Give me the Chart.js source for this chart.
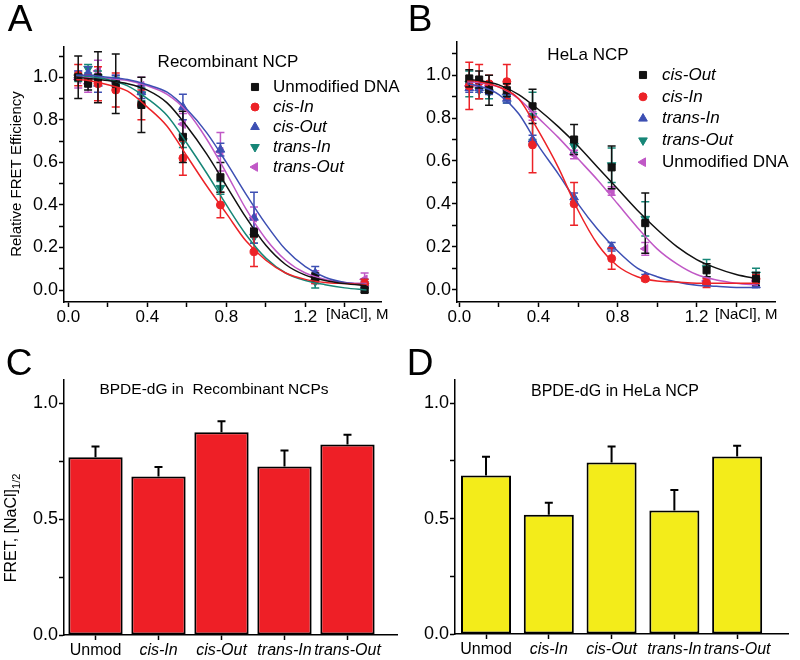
<!DOCTYPE html>
<html><head><meta charset="utf-8">
<script src="https://cdn.jsdelivr.net/npm/chart.js@4/dist/chart.umd.min.js"></script>
<style>
html,body{margin:0;padding:0;background:#fff;}
#wrap{position:relative;width:800px;height:660px;background:#fff;}
canvas{position:absolute;}
</style></head><body>
<div id="wrap">
<canvas id="cA" width="400" height="330" style="left:0;top:0"></canvas>
<canvas id="cB" width="400" height="330" style="left:400px;top:0"></canvas>
<canvas id="cC" width="400" height="330" style="left:0;top:330px"></canvas>
<canvas id="cD" width="400" height="330" style="left:400px;top:330px"></canvas>
</div>
<script>
// ---------- data ----------
const concA = [0.05,0.10,0.15,0.24,0.37,0.58,0.77,0.94,1.25,1.50];
const aUnmod      = [1.00,0.97,1.00,0.97,0.87,0.72,0.53,0.27,0.06,0.00];
const aUnmodErr   = [0.10,0.03,0.12,0.14,0.13,0.12,0.07,0.02,0.02,0.01];
const aCisIn      = [1.01,0.99,0.97,0.94,0.87,0.62,0.40,0.18,0.05,0.03];
const aCisInErr   = [0.05,0.02,0.08,0.08,0.07,0.08,0.06,0.07,0.02,0.02];
const aCisOut     = [1.01,1.02,0.97,0.99,0.93,0.86,0.66,0.34,0.08,0.03];
const aCisOutErr  = [0.02,0.03,0.04,0.02,0.03,0.06,0.03,0.12,0.03,0.02];
const aTransIn    = [1.00,1.04,1.00,0.98,0.92,0.70,0.48,0.25,0.04,0.02];
const aTransInErr = [0.02,0.02,0.03,0.02,0.03,0.03,0.03,0.03,0.03,0.02];
const aTransOut   = [0.99,0.97,1.03,0.98,0.96,0.78,0.65,0.34,0.06,0.05];
const aTransOutErr= [0.04,0.04,0.05,0.03,0.04,0.05,0.09,0.05,0.03,0.03];

const fitX = [0.04,0.1,0.2,0.3,0.4,0.5,0.6,0.7,0.8,0.9,1.0,1.1,1.2,1.3,1.4,1.51];
const aFitUnmod    = [1.00,0.995,0.985,0.97,0.94,0.88,0.77,0.64,0.49,0.34,0.21,0.12,0.07,0.045,0.03,0.02];
const aFitCisIn    = [0.99,0.985,0.965,0.935,0.86,0.77,0.63,0.49,0.36,0.23,0.14,0.08,0.05,0.035,0.03,0.025];
const aFitCisOut   = [1.01,1.01,1.00,0.99,0.965,0.93,0.85,0.74,0.60,0.45,0.31,0.19,0.11,0.06,0.035,0.025];
const aFitTransIn  = [1.01,1.005,0.99,0.96,0.90,0.82,0.69,0.55,0.40,0.26,0.15,0.08,0.045,0.025,0.01,0.00];
const aFitTransOut = [1.00,1.00,0.995,0.985,0.96,0.92,0.84,0.71,0.55,0.38,0.24,0.14,0.08,0.05,0.035,0.03];

const concB = [0.05,0.10,0.15,0.24,0.37,0.58,0.77,0.94,1.25,1.50];
const bCisOut      = [0.985,0.98,0.93,0.93,0.855,0.70,0.57,0.31,0.09,0.05];
const bCisOutErr   = [0.04,0.04,0.07,0.03,0.08,0.07,0.10,0.14,0.03,0.03];
const bCisIn       = [0.95,0.97,0.96,0.97,0.675,0.40,0.145,0.05,0.03,0.05];
const bCisInErr    = [0.11,0.08,0.04,0.08,0.13,0.10,0.05,0.01,0.02,0.02];
const bTransIn     = [0.94,0.94,0.93,0.89,0.70,0.43,0.20,0.06,0.03,0.02];
const bTransInErr  = [0.02,0.02,0.02,0.02,0.02,0.02,0.02,0.01,0.01,0.01];
const bTransOut    = [0.96,0.93,0.92,0.90,0.81,0.67,0.58,0.33,0.10,0.07];
const bTransOutErr = [0.06,0.04,0.03,0.03,0.11,0.03,0.08,0.08,0.04,0.03];
const bUnmod       = [0.95,0.95,0.95,0.91,0.81,0.63,0.46,0.19,0.04,0.04];
const bUnmodErr    = [0.02,0.02,0.02,0.02,0.02,0.02,0.02,0.03,0.01,0.01];

const bFitCisOut  = [0.98,0.975,0.955,0.91,0.84,0.76,0.67,0.57,0.47,0.37,0.28,0.20,0.14,0.10,0.07,0.05];
const bFitCisIn   = [0.975,0.97,0.945,0.89,0.74,0.57,0.37,0.21,0.11,0.06,0.04,0.035,0.03,0.03,0.03,0.03];
const bFitTransIn = [0.96,0.95,0.91,0.82,0.67,0.54,0.40,0.28,0.18,0.10,0.06,0.035,0.02,0.015,0.01,0.01];
const bFitUnmod   = [0.97,0.965,0.945,0.89,0.80,0.71,0.61,0.51,0.40,0.29,0.19,0.12,0.07,0.045,0.03,0.02];

const barCats = ['Unmod','cis-In','cis-Out','trans-In','trans-Out'];
const cVals = [0.767,0.684,0.875,0.727,0.822];
const cErr  = [0.046,0.041,0.047,0.069,0.042];
const dVals = [0.686,0.516,0.743,0.535,0.769];
const dErr  = [0.082,0.052,0.069,0.089,0.046];

const curveXTicks  = [0,0.2,0.4,0.6,0.8,1.0,1.2,1.4];
const curveXLabels = ['0.0','','0.4','','0.8','','1.2',''];
const curveYTicks  = [0,0.1,0.2,0.3,0.4,0.5,0.6,0.7,0.8,0.9,1.0,1.1];
const curveYLabels = ['0.0','','0.2','','0.4','','0.6','','0.8','','1.0',''];
const barYTicks  = [0,0.25,0.5,0.75,1.0];
const barYLabels = ['0.0','','0.5','','1.0'];

// ---------- styles ----------
const FONT = '"Liberation Sans", Arial, Helvetica, sans-serif';
const COL = {black:'#111111', red:'#ec2227', blue:'#3d4fb3', teal:'#168677', pink:'#c058c6', barRed:'#ee1f26', barYellow:'#f3ec1a'};

// ---------- helpers ----------
function pts(xs, ys){ return xs.map((x,i)=>({x:x, y:ys[i]})); }
function pointSet(label, xs, ys, errs, color, style, rot, italic){
  return {label:label, data:pts(xs,ys), errors:errs, showLine:false, pointStyle:style, rotation:rot,
    pointRadius: style==='circle'?4:5, backgroundColor:color, borderColor:color, pointBorderWidth:1,
    italicLabel:italic, inLegend:true, order:1};
}
function fitSet(xs, ys, color){
  return {data:pts(xs,ys), showLine:true, pointRadius:0, borderColor:color, backgroundColor:color,
    borderWidth:1.5, cubicInterpolationMode:'monotone', fill:false, order:0};
}
function drawErr(chart, meta, ds){
  const ctx = chart.ctx, ys = chart.scales.y;
  ctx.save();
  ctx.strokeStyle = ds.errColor || ds.borderColor;
  ctx.lineWidth = ds.errWidth || 1.5;
  meta.data.forEach((el,j)=>{
    const v = ds.data[j].y, e = ds.errors[j];
    const x = el.x;
    const yT = ys.getPixelForValue(v+e);
    const yB = ds.upOnly ? ys.getPixelForValue(v) : ys.getPixelForValue(v-e);
    const c = ds.capHalf || 4;
    ctx.beginPath();
    ctx.moveTo(x,yT); ctx.lineTo(x,yB);
    ctx.moveTo(x-c,yT); ctx.lineTo(x+c,yT);
    if(!ds.upOnly){ ctx.moveTo(x-c,yB); ctx.lineTo(x+c,yB); }
    ctx.stroke();
  });
  ctx.restore();
}
const errPlugin = {
  id:'errbars',
  beforeDatasetDraw(chart,args){ const ds=chart.data.datasets[args.index]; if(ds.errors && !ds.upOnly) drawErr(chart,args.meta,ds); },
  afterDatasetDraw(chart,args){ const ds=chart.data.datasets[args.index]; if(ds.errors && ds.upOnly) drawErr(chart,args.meta,ds); }
};
function makeAnnot(items){
  return {id:'annot', afterDraw(chart){
    const ctx = chart.ctx;
    items.forEach(it=>{
      ctx.save();
      ctx.fillStyle = '#000';
      ctx.font = it.font;
      ctx.textAlign = it.align || 'center';
      ctx.textBaseline = 'middle';
      ctx.translate(it.x, it.y);
      if(it.rot) ctx.rotate(it.rot);
      if(it.sub){
        const w1 = ctx.measureText(it.text).width;
        ctx.font = it.subFont;
        const w2 = ctx.measureText(it.sub).width;
        const start = -(w1+w2)/2;
        ctx.textAlign = 'left';
        ctx.font = it.font;
        ctx.fillText(it.text, start, 0);
        ctx.font = it.subFont;
        ctx.fillText(it.sub, start+w1, 5);
      } else {
        ctx.fillText(it.text, 0, 0);
      }
      ctx.restore();
    });
  }};
}
function makeLegend(cfg){
  return {id:'ptlegend', afterDraw(chart){
    const ctx = chart.ctx;
    let k = 0;
    chart.data.datasets.forEach(ds=>{
      if(!ds.inLegend) return;
      const y = cfg.y0 + k*cfg.dy;
      ctx.save();
      ctx.fillStyle = ds.backgroundColor; ctx.strokeStyle = ds.borderColor; ctx.lineWidth = 1;
      Chart.helpers.drawPoint(ctx, {pointStyle:ds.pointStyle, rotation:ds.rotation||0, radius:ds.pointRadius, borderWidth:1}, cfg.mx, y);
      ctx.fillStyle = '#000';
      ctx.font = (ds.italicLabel?'italic ':'') + cfg.size + 'px ' + FONT;
      ctx.textAlign = 'left'; ctx.textBaseline = 'middle';
      ctx.fillText(ds.label, cfg.tx, y);
      ctx.restore();
      k++;
    });
  }};
}
function curveChart(id, datasets, cfg){
  return new Chart(document.getElementById(id), {
    type:'scatter',
    data:{datasets:datasets},
    options:{
      responsive:false, animation:false, devicePixelRatio:1,
      layout:{padding:cfg.padding},
      plugins:{legend:{display:false}, tooltip:{enabled:false}},
      scales:{
        x:{type:'linear', min:cfg.xmin, max:cfg.xmax,
          afterBuildTicks:s=>{ s.ticks = curveXTicks.map(v=>({value:v})); },
          afterFit:s=>{ s.height = cfg.xh; },
          grid:{drawOnChartArea:false, tickLength:5, tickColor:'#000', tickWidth:1.5},
          border:{color:'#000', width:1.5},
          ticks:{autoSkip:false, maxRotation:0, padding:0, color:'#000', font:{family:FONT,size:17},
            callback:(v,i)=>curveXLabels[i]}},
        y:{type:'linear', min:cfg.ymin, max:cfg.ymax,
          afterBuildTicks:s=>{ s.ticks = curveYTicks.map(v=>({value:v})); },
          afterFit:s=>{ s.width = cfg.yw; },
          grid:{drawOnChartArea:false, tickLength:5, tickColor:'#000', tickWidth:1.5},
          border:{color:'#000', width:1.5},
          ticks:{autoSkip:false, padding:1, color:'#000', font:{family:FONT,size:18},
            callback:(v,i)=>curveYLabels[i]}}
      }
    },
    plugins:[errPlugin, makeAnnot(cfg.items), makeLegend(cfg.legend)]
  });
}
function barChart(id, vals, errs, color, cfg){
  return new Chart(document.getElementById(id), {
    type:'bar',
    data:{datasets:[{data:vals.map((v,i)=>({x:i,y:v})), errors:errs, upOnly:true, errColor:'#000', errWidth:2, capHalf:4,
      backgroundColor:color, borderColor:'#000', borderWidth:2, borderSkipped:false,
      barPercentage:cfg.barPct, categoryPercentage:1}]},
    options:{
      responsive:false, animation:false, devicePixelRatio:1,
      layout:{padding:cfg.padding},
      plugins:{legend:{display:false}, tooltip:{enabled:false}},
      scales:{
        x:{type:'linear', min:cfg.xmin, max:cfg.xmax, offset:false,
          afterBuildTicks:s=>{ s.ticks = barCats.map((c,i)=>({value:i})); },
          afterFit:s=>{ s.height = cfg.xh; },
          grid:{drawOnChartArea:false, offset:false, tickLength:5, tickColor:'#000', tickWidth:1.5},
          border:{color:'#000', width:1.5},
          ticks:{autoSkip:false, maxRotation:0, padding:1, color:'#000',
            font:(c)=>({family:FONT, size:16, style:(c.index===0?'normal':'italic')}),
            callback:(v,i)=>barCats[i]}},
        y:{type:'linear', min:0, max:1.1,
          afterBuildTicks:s=>{ s.ticks = barYTicks.map(v=>({value:v})); },
          afterFit:s=>{ s.width = cfg.yw; },
          grid:{drawOnChartArea:false, tickLength:5, tickColor:'#000', tickWidth:1.5},
          border:{color:'#000', width:1.5},
          ticks:{autoSkip:false, padding:1, color:'#000', font:{family:FONT,size:18},
            callback:(v,i)=>barYLabels[i]}}
      }
    },
    plugins:[errPlugin, makeAnnot(cfg.items)]
  });
}

// ---------- panel A ----------
curveChart('cA', [
  pointSet('Unmodified DNA', concA, aUnmod, aUnmodErr, COL.black, 'rect', 0, false),
  pointSet('cis-In', concA, aCisIn, aCisInErr, COL.red, 'circle', 0, true),
  pointSet('cis-Out', concA, aCisOut, aCisOutErr, COL.blue, 'triangle', 0, true),
  pointSet('trans-In', concA, aTransIn, aTransInErr, COL.teal, 'triangle', 180, true),
  pointSet('trans-Out', concA, aTransOut, aTransOutErr, COL.pink, 'triangle', 270, true),
  fitSet(fitX, aFitUnmod, COL.black),
  fitSet(fitX, aFitCisIn, COL.red),
  fitSet(fitX, aFitCisOut, COL.blue),
  fitSet(fitX, aFitTransIn, COL.teal),
  fitSet(fitX, aFitTransOut, COL.pink)
], {
  padding:{left:0, top:47, right:19, bottom:0}, yw:64, xh:28,
  xmin:-0.022, xmax:1.583, ymin:-0.0564, ymax:1.1425,
  legend:{mx:255, tx:273, y0:87, dy:20, size:17},
  items:[
    {text:'A', x:20, y:21, font:'37px '+FONT},
    {text:'Recombinant NCP', x:228, y:62, font:'17px '+FONT},
    {text:'[NaCl], M', x:326, y:315, align:'left', font:'15px '+FONT},
    {text:'Relative FRET Efficiency', x:17, y:174, rot:-Math.PI/2, font:'15px '+FONT}
  ]
});

// ---------- panel B ----------
curveChart('cB', [
  pointSet('cis-Out', concB, bCisOut, bCisOutErr, COL.black, 'rect', 0, true),
  pointSet('cis-In', concB, bCisIn, bCisInErr, COL.red, 'circle', 0, true),
  pointSet('trans-In', concB, bTransIn, bTransInErr, COL.blue, 'triangle', 0, true),
  pointSet('trans-Out', concB, bTransOut, bTransOutErr, COL.teal, 'triangle', 180, true),
  pointSet('Unmodified DNA', concB, bUnmod, bUnmodErr, COL.pink, 'triangle', 270, false),
  fitSet(fitX, bFitCisOut, COL.black),
  fitSet(fitX, bFitCisIn, COL.red),
  fitSet(fitX, bFitTransIn, COL.blue),
  fitSet(fitX, bFitUnmod, COL.pink)
], {
  padding:{left:0, top:42, right:25, bottom:0}, yw:57, xh:28,
  xmin:-0.012, xmax:1.596, ymin:-0.058, ymax:1.155,
  legend:{mx:243, tx:262, y0:75, dy:21.8, size:17},
  items:[
    {text:'B', x:20, y:21, font:'37px '+FONT},
    {text:'HeLa NCP', x:188, y:55, font:'17px '+FONT},
    {text:'[NaCl], M', x:315, y:315, align:'left', font:'15px '+FONT}
  ]
});

// ---------- panel C ----------
barChart('cC', cVals, cErr, COL.barRed, {
  padding:{left:0, top:50, right:3, bottom:0}, yw:64, xh:25, xmin:-0.5, xmax:4.786, barPct:0.862,
  items:[
    {text:'C', x:19, y:35, font:'37px '+FONT},
    {text:'BPDE-dG in  Recombinant NCPs', x:214, y:60, font:'15.5px '+FONT},
    {text:'FRET, [NaCl]', sub:'1/2', x:12, y:198, rot:-Math.PI/2, font:'16px '+FONT, subFont:'11px '+FONT}
  ]
});

// ---------- panel D ----------
barChart('cD', dVals, dErr, COL.barYellow, {
  padding:{left:0, top:50, right:12, bottom:0}, yw:55, xh:26, xmin:-0.494, xmax:4.81, barPct:0.797,
  items:[
    {text:'D', x:20, y:35, font:'37px '+FONT},
    {text:'BPDE-dG in HeLa NCP', x:215, y:62, font:'16px '+FONT}
  ]
});
</script>
</body></html>
